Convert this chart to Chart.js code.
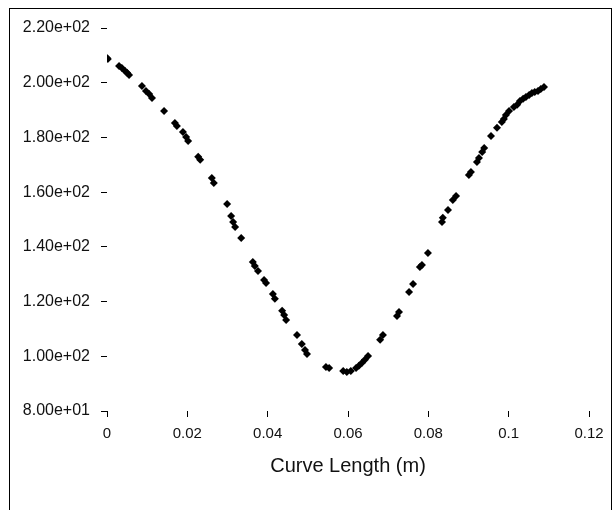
<!DOCTYPE html>
<html>
<head>
<meta charset="utf-8">
<script src="https://cdn.jsdelivr.net/npm/chart.js@4.4.1/dist/chart.umd.min.js"></script>
<style>
  html, body { margin: 0; padding: 0; background: #fff; overflow: hidden; }
  #wrap { position: absolute; left: 0; top: 0; width: 614px; height: 510px; }
  #frame { position: absolute; left: 9px; top: 8px; width: 601px; height: 600px; border: 1px solid #000; box-sizing: content-box; pointer-events: none; }
</style>
</head>
<body>
<div id="wrap">
  <canvas id="c" width="614" height="510"></canvas>
  <div id="frame"></div>
</div>
<script>
// Curve length (m)
const curveLength = [
  0.0000, 0.0002, 0.0030, 0.0037, 0.0045, 0.0050, 0.0055, 0.0087, 0.0097, 0.0105,
  0.0112, 0.0142, 0.0169, 0.0174, 0.0189, 0.0197, 0.0202, 0.0227, 0.0232, 0.0261,
  0.0266, 0.0299, 0.0309, 0.0314, 0.0319, 0.0334, 0.0363, 0.0368, 0.0376, 0.0391,
  0.0396, 0.0413, 0.0418, 0.0436, 0.0441, 0.0446, 0.0473, 0.0485, 0.0493, 0.0498,
  0.0545, 0.0553, 0.0588, 0.0597, 0.0607, 0.0620, 0.0627, 0.0635, 0.0642, 0.0650,
  0.0680, 0.0687, 0.0722, 0.0727, 0.0752, 0.0762, 0.0779, 0.0784, 0.0799, 0.0834,
  0.0836, 0.0849, 0.0861, 0.0869, 0.0901, 0.0906, 0.0921, 0.0926, 0.0934, 0.0939,
  0.0956, 0.0971, 0.0983, 0.0988, 0.0993, 0.1001, 0.1013, 0.1021, 0.1028, 0.1036,
  0.1043, 0.1051, 0.1058, 0.1065, 0.1073, 0.1080, 0.1088
];
// Plotted value
const values = [
  209.0, 208.7, 206.1, 205.4, 204.3, 203.6, 202.8, 198.8, 197.0, 195.9,
  194.4, 189.7, 185.3, 184.2, 182.0, 180.2, 178.7, 172.9, 171.8, 165.2,
  163.3, 155.7, 151.3, 149.1, 147.3, 143.2, 134.5, 133.0, 131.2, 127.9,
  126.8, 122.8, 121.0, 116.6, 115.1, 113.3, 107.8, 104.5, 102.3, 100.8,
  96.1, 95.7, 94.6, 94.3, 94.6, 95.7, 96.5, 97.6, 98.7, 100.1,
  106.0, 107.8, 114.7, 116.2, 123.5, 126.4, 132.6, 133.4, 137.8, 149.1,
  150.6, 153.5, 157.1, 158.6, 166.3, 167.4, 171.0, 172.5, 174.7, 176.1,
  180.5, 183.5, 185.6, 186.7, 188.2, 189.7, 191.1, 191.9, 193.3, 194.1,
  194.8, 195.5, 196.2, 196.6, 197.0, 197.7, 198.4
];
const xTickValues = [0, 0.02, 0.04, 0.06, 0.08, 0.1, 0.12];
const xTickLabels = ['0', '0.02', '0.04', '0.06', '0.08', '0.1', '0.12'];
const yTickValues = [80, 100, 120, 140, 160, 180, 200, 220];
const yTickLabels = ['8.00e+01', '1.00e+02', '1.20e+02', '1.40e+02', '1.60e+02', '1.80e+02', '2.00e+02', '2.20e+02'];
const xTitle = 'Curve Length (m)';

const points = curveLength.map((x, i) => ({ x: x, y: values[i] }));

function labelFor(vals, labs, v) {
  for (let i = 0; i < vals.length; i++) {
    if (Math.abs(vals[i] - v) < 1e-6) return labs[i];
  }
  return '';
}

new Chart(document.getElementById('c'), {
  type: 'scatter',
  data: {
    datasets: [{
      data: points,
      backgroundColor: '#000',
      borderColor: '#000',
      pointStyle: 'rectRot',
      pointRadius: 4,
      pointHoverRadius: 4,
      borderWidth: 0
    }]
  },
  options: {
    responsive: false,
    animation: false,
    devicePixelRatio: 1,
    layout: { padding: { top: 28, right: 25, left: 0, bottom: 0 } },
    plugins: { legend: { display: false }, tooltip: { enabled: false } },
    scales: {
      x: {
        type: 'linear',
        min: 0, max: 0.12,
        afterFit: s => { s.height = 99; },
        afterBuildTicks: s => { s.ticks = xTickValues.map(v => ({ value: v })); },
        border: { display: false },
        grid: { drawOnChartArea: false, drawTicks: true, tickLength: 6, color: '#000', tickWidth: 1 },
        ticks: {
          autoSkip: false, maxRotation: 0, padding: 8,
          color: '#111',
          font: { family: 'Liberation Sans', size: 15 },
          callback: v => labelFor(xTickValues, xTickLabels, v)
        },
        title: {
          display: true, text: xTitle, color: '#111',
          font: { family: 'Liberation Sans', size: 20 },
          padding: { top: 32, bottom: 32 }
        }
      },
      y: {
        type: 'linear',
        min: 80, max: 220,
        afterFit: s => { s.width = 107; },
        afterBuildTicks: s => { s.ticks = yTickValues.map(v => ({ value: v })); },
        border: { display: false },
        grid: { drawOnChartArea: false, drawTicks: true, tickLength: 6, color: '#000', tickWidth: 1 },
        ticks: {
          autoSkip: false, padding: 11,
          color: '#111',
          font: { family: 'Liberation Sans', size: 16 },
          callback: v => labelFor(yTickValues, yTickLabels, v)
        }
      }
    }
  }
});
</script>
</body>
</html>
